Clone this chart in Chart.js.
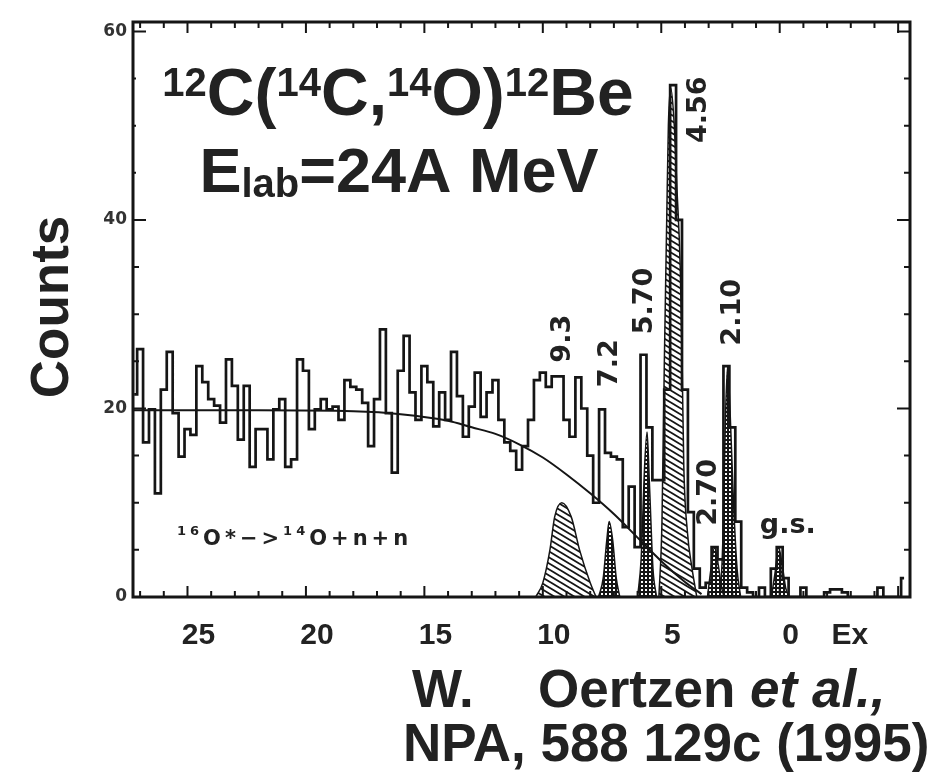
<!DOCTYPE html>
<html>
<head>
<meta charset="utf-8">
<script src="https://cdn.jsdelivr.net/npm/chart.js@4"></script>
<style>
  html, body { margin: 0; padding: 0; background: #fff; }
</style>
</head>
<body>
<canvas id="spectrum" width="941" height="775"></canvas>
<script>
// ================================================================
// DATA
// ================================================================
// histogram: bins of 0.25 MeV, first bin centre at Ex = 27.25 MeV
const binStartEx = 27.25;
const binWidthEx = 0.25;
const counts = [
    21.5, 26.3, 16.4, 19.9, 11,   22,   26,   19.5, 14.9, 17.8,
    17.2, 24.5, 22.8, 21,   20.3, 18.5, 25.2, 22.4, 16.7, 22.4,
    13.8, 17.8, 17.8, 14.6, 19.9, 21,   13.8, 14.6, 25.2, 24,
    17.8, 19.9, 21,   19.9, 20.2, 18.8, 23,   22.3, 22,   20.6,
    16,   21,   28.4, 19.5, 13.2, 24,   27.7, 21.7, 18.8, 24.5,
    22.8, 18.1, 21.7, 18.8, 26,   21.3, 17,   20.2, 23.8, 19.1,
    21.7, 23,   18.8, 16.4, 15.5, 13.5, 16,   18.8, 23,   23.8,
    22.3, 23.4, 23.4, 18.8, 17,   23.3, 20,   15,   10,   19.9,
    15.3, 14.9, 14.6, 7.4,  11.7, 5.3,  25.7, 18,   12.4, 12.4,
    22,   54.3, 40,   22,   9,    3,    1,    1.5,  5.3,  4,
    24.5, 18,   8,    1,    0.5,  0,    1,    0,    3,    5.3,
    2,    0,    0,    1,    0,    0,    0,    0.5,  0.8,  0.8,
    0.5,  0,    0,    0,    0,    0,    1,    0,    0,    0,    2
];

// three-body background 16O* -> 14O+n+n
const bgEx     = [27.3, 22,   18,   16,   14,   13,   12,   11,   10,   9,    8,    7,   6,   5,   4,   3.3];
const bgCounts = [19.8, 19.8, 19.7, 19.4, 18.7, 18.0, 17.3, 16.2, 14.8, 13.0, 11.0, 8.8, 6.3, 3.8, 1.6, 0.3];

// fitted peaks
const peak93Ex      = [10.3, 10.0, 9.7, 9.5, 9.2, 8.8, 8.45, 8.0, 7.75];
const peak93Counts  = [0,    1.5,  5,   8.5, 10,  8.5, 5,    1.5, 0];
const peak72Ex      = [7.65, 7.45, 7.3, 7.2, 7.05, 6.9, 6.75];
const peak72Counts  = [0,    2,    6,   8,   6,    2,   0];
const peak570Ex     = [6.0, 5.85, 5.7, 5.6,  5.5, 5.35, 5.2];
const peak570Counts = [0,   4,    14,  17.5, 12,  3,    0];
const peak456Ex     = [5.1, 4.97, 4.87, 4.77, 4.7, 4.6, 4.45, 4.35, 4.2, 4.12, 4.05, 3.9, 3.7, 3.5];
const peak456Counts = [0,   8,    25,   40,   50,  54,  50,   44,   35,  25,   14,   7,   3,   0];
const peak270Ex     = [3.05, 2.9, 2.75, 2.6, 2.45, 2.35];
const peak270Counts = [0,    3,   5.3,  3.5, 1,    0];
const peak210Ex     = [2.5, 2.4, 2.3, 2.2,  2.1, 1.95, 1.8, 1.65];
const peak210Counts = [0,   6,   18,  24.5, 20,  10,   3,   0];
const peakGsEx      = [0.35, 0.2, 0.05, -0.1, -0.25, -0.4];
const peakGsCounts  = [0,    2.5, 5.3,  3.5,  1,     0];

// peak labels, anchored in data coordinates (Ex, counts)
const peakLabelText   = ['9.3', '7.2', '5.70', '4.56', '2.10', '2.70'];
const peakLabelEx     = [9.16,  7.17,  5.70,   3.42,   1.98,   3.0];
const peakLabelCounts = [27.4,  24.8,  31.4,   51.7,   30.2,   11.1];

const xTickValues = [25, 20, 15, 10, 5, 0, -2.5];
const xTickLabels = ['25', '20', '15', '10', '5', '0', 'Ex'];
const yTickValues = [0, 20, 40, 60];
const yTickLabels = ['0', '20', '40', '60'];

// ================================================================
// PATTERNS
// ================================================================
function linePattern() {
    const c = document.createElement('canvas'); c.width = 10; c.height = 6;
    const g = c.getContext('2d');
    g.fillStyle = '#fff'; g.fillRect(0, 0, 10, 6);
    g.strokeStyle = '#151515'; g.lineWidth = 1.8;
    g.beginPath();
    g.moveTo(-10, -6); g.lineTo(20, 12);
    g.moveTo(-10, 0);  g.lineTo(10, 12);
    g.moveTo(0, -6);   g.lineTo(20, 6);
    g.stroke();
    return g.createPattern(c, 'repeat');
}
function dotPattern() {
    const c = document.createElement('canvas'); c.width = 4; c.height = 4;
    const g = c.getContext('2d');
    g.fillStyle = '#151515'; g.fillRect(0, 0, 4, 4);
    g.fillStyle = '#fff'; g.fillRect(1, 1, 2, 2);
    return g.createPattern(c, 'repeat');
}
const hatch = linePattern(), dots = dotPattern();

const toPts = (xs, ys) => xs.map((x, i) => ({ x, y: ys[i] }));
const histPts = counts.map((c, i) => ({ x: binStartEx - i * binWidthEx, y: c }));

function peakSet(xs, ys, fillStyle) {
    return {
        data: toPts(xs, ys), fill: 'origin', backgroundColor: fillStyle,
        borderColor: '#151515', borderWidth: 1.5, cubicInterpolationMode: 'monotone', order: 3
    };
}

// ================================================================
// PLUGINS
// ================================================================
const frameTicks = {
    id: 'frameTicks',
    afterDatasetsDraw(chart) {
        const { ctx, chartArea: a, scales: { x, y } } = chart;
        ctx.save();
        ctx.strokeStyle = '#151515';
        ctx.lineWidth = 2;
        ctx.beginPath();
        for (let e = -5; e <= 27; e++) {
            const px = x.getPixelForValue(e);
            const len = e % 5 === 0 ? 11 : 6;
            ctx.moveTo(px, a.bottom); ctx.lineTo(px, a.bottom - len);
            ctx.moveTo(px, a.top);    ctx.lineTo(px, a.top + len);
        }
        for (let c = 5; c < 61; c += 5) {
            const py = y.getPixelForValue(c);
            const len = c % 20 === 0 ? 13 : 6;
            ctx.moveTo(a.left, py);  ctx.lineTo(a.left + len, py);
            ctx.moveTo(a.right, py); ctx.lineTo(a.right - len, py);
        }
        ctx.stroke();
        ctx.lineWidth = 3;
        ctx.strokeRect(a.left, a.top, a.right - a.left, a.bottom - a.top);

        // peak labels, rotated like in the paper
        ctx.fillStyle = '#222';
        ctx.font = 'bold 27px "DejaVu Sans", sans-serif';
        ctx.textAlign = 'center'; ctx.textBaseline = 'middle';
        peakLabelText.forEach((t, i) => {
            ctx.save();
            ctx.translate(x.getPixelForValue(peakLabelEx[i]), y.getPixelForValue(peakLabelCounts[i]));
            ctx.rotate(-Math.PI / 2);
            ctx.fillText(t, 0, 0);
            ctx.restore();
        });
        ctx.fillText('g.s.', x.getPixelForValue(-0.34), y.getPixelForValue(7.5));

        // reaction channel note
        ctx.textAlign = 'left'; ctx.textBaseline = 'alphabetic';
        let cx = 177;
        const small = 'bold 13px "DejaVu Sans", sans-serif', mid = 'bold 21px "DejaVu Sans", sans-serif';
        const note = [['16', small, -10], ['O*\u2212>', mid, 0], ['14', small, -10], ['O+n+n', mid, 0]];
        ctx.letterSpacing = '4px';
        note.forEach(([t, f, dy]) => { ctx.font = f; ctx.fillText(t, cx, 545 + dy); cx += ctx.measureText(t).width; });
        ctx.letterSpacing = '0px';
        ctx.restore();
    }
};

function drawRich(ctx, parts, centre, base) {
    let w = 0;
    parts.forEach(([t, f]) => { ctx.font = f; w += ctx.measureText(t).width; });
    let cx = centre - w / 2;
    parts.forEach(([t, f, dy]) => { ctx.font = f; ctx.fillText(t, cx, base + dy); cx += ctx.measureText(t).width; });
}

const overlayText = {
    id: 'overlayText',
    afterDraw(chart) {
        const ctx = chart.ctx;
        ctx.save();
        ctx.fillStyle = '#fff';
        ctx.fillRect(136, 35, 526, 175);
        ctx.fillStyle = '#222';
        ctx.textAlign = 'left'; ctx.textBaseline = 'alphabetic';
        const big = 'bold 66px "Liberation Sans", Arial, sans-serif';
        const sup = 'bold 40px "Liberation Sans", Arial, sans-serif';
        drawRich(ctx, [['12', sup, -19], ['C(', big, 0], ['14', sup, -19], ['C,', big, 0],
                       ['14', sup, -19], ['O)', big, 0], ['12', sup, -19], ['Be', big, 0]], 398, 115);
        const big2 = 'bold 63px "Liberation Sans", Arial, sans-serif';
        drawRich(ctx, [['E', big2, 0], ['lab', sup, 5], ['=24A MeV', big2, 0]], 399, 192);

        // y title
        ctx.save();
        ctx.translate(68, 307); ctx.rotate(-Math.PI / 2);
        ctx.textAlign = 'center';
        ctx.font = 'bold 53px "Liberation Sans", Arial, sans-serif';
        ctx.fillText('Counts', 0, 0);
        ctx.restore();

        // reference
        const ref = 'bold 53px "Liberation Sans", Arial, sans-serif';
        const refIt = 'italic bold 53px "Liberation Sans", Arial, sans-serif';
        ctx.font = ref; ctx.fillText('W.', 412, 707);
        ctx.fillText('Oertzen', 538, 707);
        const ow = ctx.measureText('Oertzen ').width;
        ctx.font = refIt; ctx.fillText('et al.,', 538 + ow, 707);
        ctx.font = ref; ctx.fillText('NPA, 588 129c (1995)', 403, 761);
        ctx.restore();
    }
};

// ================================================================
// CHART
// ================================================================
new Chart(document.getElementById('spectrum'), {
    type: 'line',
    data: {
        datasets: [
            { data: histPts, stepped: 'middle', borderColor: '#151515', borderWidth: 2.7, fill: false, order: 1 },
            { data: toPts(bgEx, bgCounts), borderColor: '#151515', borderWidth: 2, fill: false,
              cubicInterpolationMode: 'monotone', order: 2 },
            peakSet(peak93Ex, peak93Counts, hatch),
            peakSet(peak72Ex, peak72Counts, dots),
            peakSet(peak570Ex, peak570Counts, dots),
            peakSet(peak456Ex, peak456Counts, hatch),
            peakSet(peak270Ex, peak270Counts, dots),
            peakSet(peak210Ex, peak210Counts, dots),
            peakSet(peakGsEx, peakGsCounts, dots)
        ]
    },
    options: {
        responsive: false,
        animation: false,
        layout: { padding: { left: 0, right: 31, top: 22, bottom: 0 } },
        elements: { point: { radius: 0 } },
        plugins: { legend: { display: false }, tooltip: { enabled: false } },
        scales: {
            x: {
                type: 'linear', reverse: true, min: -5.5, max: 27.3,
                grid: { display: false, drawTicks: false }, border: { display: false },
                afterBuildTicks: s => { s.ticks = xTickValues.map(v => ({ value: v })); },
                afterFit: s => { s.height = 178; },
                ticks: {
                    autoSkip: false, maxRotation: 0, padding: 21, labelOffset: 11,
                    color: '#222', font: { family: '"Liberation Sans", Arial, sans-serif', size: 30, weight: 'bold' },
                    callback: (v, i) => xTickLabels[i]
                }
            },
            y: {
                min: 0, max: 61,
                grid: { display: false, drawTicks: false }, border: { display: false },
                afterBuildTicks: s => { s.ticks = yTickValues.map(v => ({ value: v })); },
                afterFit: s => { s.width = 133; },
                ticks: {
                    padding: 6, color: '#333',
                    font: { family: '"DejaVu Sans", sans-serif', size: 17, weight: 'bold' },
                    callback: (v, i) => yTickLabels[i]
                }
            }
        }
    },
    plugins: [frameTicks, overlayText]
});
</script>
</body>
</html>
